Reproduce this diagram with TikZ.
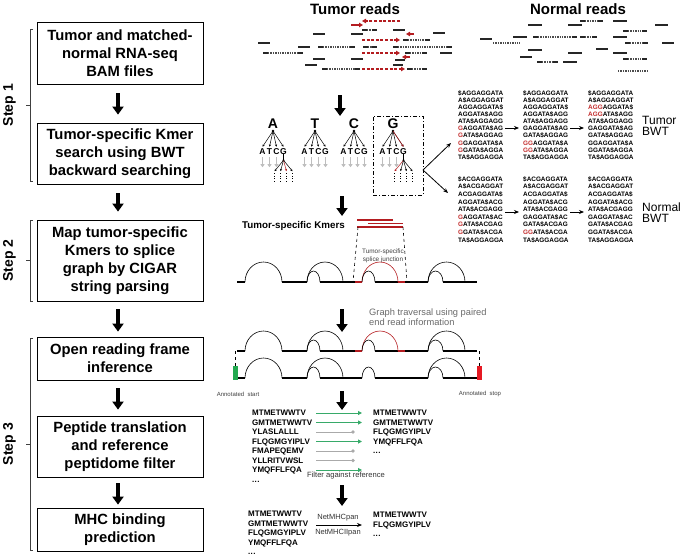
\documentclass[tikz,border=0pt]{standalone}
\usepackage{fontspec}
\setmainfont{Liberation Sans}
\usetikzlibrary{arrows.meta}
\definecolor{kred}{RGB}{180,28,32}
\definecolor{bwtred}{RGB}{195,45,45}
\definecolor{pgreen}{RGB}{55,170,105}
\definecolor{pgray}{RGB}{170,170,170}
\definecolor{treegray}{RGB}{190,190,190}
\definecolor{txtgray}{RGB}{105,105,105}
\definecolor{startgreen}{RGB}{35,170,80}
\definecolor{stopred}{RGB}{230,25,35}
\newcommand{\fs}[2]{\fontsize{#1}{#2}\selectfont}
\newcommand{\R}[1]{\textcolor{bwtred}{#1}}
\newcommand{\threedots}{.\kern0.3pt.\kern0.3pt.}
\tikzset{
  stepbox/.style={draw, line width=0.8pt, minimum width=166pt, align=center, inner sep=0pt, font=\fs{14.8}{18}\bfseries},
  bigarrow/.style={line width=3.8pt, -{Triangle[width=11pt,length=8pt]}},
  bracketline/.style={line width=0.6pt, black!75},
  steplabel/.style={rotate=90, font=\fs{14}{16}\bfseries, inner sep=0pt},
  titletext/.style={font=\fs{15}{17}\bfseries, inner sep=0pt, text height=10.8pt, text depth=0pt},
  readline/.style={line width=1.2pt, black!85},
  readgap/.style={line width=1.2pt, black!70, dash pattern=on 1.4pt off 1pt},
  redread/.style={line width=1.3pt, kred, dash pattern=on 3pt off 1.6pt, -{Triangle[width=4.5pt,length=4pt]}},
  redsolid/.style={line width=1.3pt, kred, -{Triangle[width=4.5pt,length=4pt]}},
  rootl/.style={font=\fs{14}{16}\bfseries, inner sep=0pt, text height=10pt, text depth=0pt},
  childl/.style={font=\fs{8.5}{9}\bfseries, inner sep=0pt, text height=6.1pt, text depth=0pt},
  tedge/.style={line width=0.5pt, -{Stealth[length=2.4pt,width=2.2pt]}},
  grayarr/.style={line width=1.6pt, treegray, -{Triangle[width=4.2pt,length=3.2pt]}},
  bwt/.style={font=\fs{6.4}{7}\bfseries, inner sep=0pt, anchor=west, text height=4.6pt, text depth=0pt},
  bwtlabel/.style={font=\fs{12}{11.5}, align=left, inner sep=0pt, anchor=west},
  thinarr/.style={line width=0.8pt, -{Stealth[length=5pt,width=4pt]}},
  pep/.style={font=\fs{8}{9}\bfseries, inner sep=0pt, anchor=west, text height=5.7pt, text depth=0pt},
  garr/.style={line width=1pt, pgreen, -{Triangle[width=4pt,length=4pt]}},
  gryarr/.style={line width=1pt, pgray},
  smalltxt/.style={font=\fs{6}{7}, inner sep=0pt, text=black!75},
  kmer/.style={line width=1.8pt, kred},
}
\newcommand{\rd}[3]{\draw[readline] (#1,#3) -- (#2,#3);}
\newcommand{\dr}[3]{\draw[readgap] (#1,#3) -- (#2,#3);}
\newcommand{\pe}[3]{\draw[readline] (#1,#3) -- ({#1+5},#3); \draw[readgap] ({#1+5},#3) -- ({#2-5},#3); \draw[readline] ({#2-5},#3) -- (#2,#3);}
\newcommand{\ktree}[3]{%
  \node[rootl] (#3) at (#1,123) {#2};
  \coordinate (#3dot) at (#1,131);
  \fill (#3dot) circle (1.3pt);
  \foreach \c/\dx [count=\i] in {A/-10.5,T/-3.5,C/3.5,G/10.5}{
    \node[childl] (#3c\i) at ({#1+\dx},151) {\c};
    \draw[tedge] (#3dot) -- ([yshift=1pt]#3c\i.north);
  }%
}
\newcommand{\garrs}[2]{\foreach \i in {#2} {\draw[grayarr] ([yshift=-3pt]#1c\i.south) -- ++(0,10);}}
\newcommand{\subfan}[2]{%
  \path ([yshift=-6pt]#1.south) coordinate (#1sf);
  \draw[line width=0.5pt] (#1.south) -- (#1sf);
  \fill (#1sf) circle (1.2pt);
  \foreach \dx [count=\j] in {-9,-3,3,9}{
    \ifnum\j=#2 \def\ecol{kred}\else\def\ecol{black}\fi
    \draw[tedge,\ecol] (#1sf) -- ++(\dx,11);
    \draw[line width=0.7pt, dash pattern=on 1pt off 1.6pt] ([shift={(\dx,13)}]#1sf) -- ++(0,9);
  }%
}
\newcommand{\sarc}[5]{\draw[#1, line width=0.6pt] (#2,#4) arc[start angle=180, end angle=360, x radius={(#3-#2)/2}, y radius=#5];}
\newcommand{\exon}[4]{\draw[#1, line width=1.5pt] (#2,#4) -- (#3,#4);}
\newcommand{\graphAB}[1]{%
 \exon{black}{237}{245}{#1} \exon{black}{282}{307}{#1} \exon{black}{320}{355}{#1} \exon{kred}{355}{362}{#1}
 \exon{black}{375}{398}{#1} \exon{kred}{398}{405}{#1} \exon{black}{405}{428}{#1} \exon{black}{443}{477}{#1}
 \sarc{black}{245}{282}{#1}{20} \sarc{black}{307}{343}{#1}{20} \sarc{black}{307}{320}{#1}{11}
 \sarc{kred}{362}{398}{#1}{20} \sarc{black}{362}{375}{#1}{11} \sarc{black}{428}{465}{#1}{20} \sarc{black}{428}{443}{#1}{11}
}
\begin{document}
\begin{tikzpicture}[x=1pt,y=-1pt]
\useasboundingbox (0,0) rectangle (682,557);
% ---------- left column ----------
\node[stepbox, minimum height=62pt] (b1) at (120,53) {Tumor and matched-\\normal RNA-seq\\BAM files};
\node[stepbox, minimum height=61pt] (b2) at (120,153.5) {Tumor-specific Kmer\\search using BWT\\backward searching};
\node[stepbox, minimum height=81pt] (b3) at (120,260.5) {Map tumor-specific\\Kmers to splice\\graph by CIGAR\\string parsing};
\node[stepbox, minimum height=43pt] (b4) at (120,358.5) {Open reading frame\\inference};
\node[stepbox, minimum height=61pt] (b5) at (120,446.5) {Peptide translation\\and reference\\peptidome filter};
\node[stepbox, minimum height=43pt] (b6) at (120,529.5) {MHC binding\\prediction};
\draw[bigarrow] ([xshift=-2pt,yshift=-9pt]b1.south) -- ([xshift=-2pt,yshift=8pt]b2.north);
\draw[bigarrow] ([xshift=-2pt,yshift=-9pt]b2.south) -- ([xshift=-2pt,yshift=8pt]b3.north);
\draw[bigarrow] ([xshift=-2pt,yshift=-8pt]b3.south) -- ([xshift=-2pt,yshift=5pt]b4.north);
\draw[bigarrow] ([xshift=-2pt,yshift=-8pt]b4.south) -- ([xshift=-2pt,yshift=6pt]b5.north);
\draw[bigarrow] ([xshift=-2pt,yshift=-6pt]b5.south) -- ([xshift=-2pt,yshift=3pt]b6.north);
\draw[bracketline] (33,29) -- (30,29) -- (30,181) -- (33,181);
\draw[bracketline] (30,105) -- (26,105);
\draw[bracketline] (33,220) -- (30,220) -- (30,301) -- (33,301);
\draw[bracketline] (30,260.5) -- (26,260.5);
\draw[bracketline] (33,338) -- (30,338) -- (30,550) -- (33,550);
\draw[bracketline] (30,444) -- (26,444);
\node[steplabel] (s1) at (9.5,105) {Step 1};
\node[steplabel] (s2) at (9.5,260.5) {Step 2};
\node[steplabel] (s3) at (9.5,444) {Step 3};
% ---------- reads ----------
\node[titletext] (tr) at (355,9) {Tumor reads};
\node[titletext] (nr) at (578,9) {Normal reads};
\draw[redread] (400,21) -- (362,21);
\draw[redsolid] (351,25) -- (363,25);
\pe{362}{377}{30} \rd{393}{405}{30}
\rd{313}{325}{34} \rd{351}{363}{34} \rd{433}{445}{33}
\draw[redsolid] (414,34) -- (406,34);
\draw[redread] (362,40) -- (400,40);
\pe{403}{430}{40}
\rd{258}{270}{43}
\rd{298}{310}{47} \pe{318}{355}{47} \pe{363}{377}{47} \pe{393}{452}{47}
\pe{263}{303}{53}
\draw[redread] (362,53) -- (400,53);
\pe{405}{427}{53} \rd{440}{452}{53}
\rd{313}{325}{59} \rd{351}{363}{59} \rd{395}{405}{60}
\draw[redsolid] (410,57) -- (402,57);
\rd{305}{317}{65} \rd{393}{403}{65}
\pe{322}{360}{69}
\draw[redread] (362,69) -- (405,69);
\pe{407}{427}{69}
% normal reads
\pe{580}{603}{21} \rd{613}{627}{21}
\rd{528}{542}{25} \rd{568}{582}{25} \rd{655}{668}{25}
\pe{623}{647}{31}
\rd{513}{527}{37} \pe{533}{577}{37} \pe{580}{597}{37} \rd{613}{627}{37}
\rd{480}{492}{39}
\dr{493}{520}{43} \pe{625}{648}{43} \rd{662}{674}{43}
\rd{528}{542}{50} \rd{596}{608}{49}
\rd{568}{582}{53} \rd{613}{627}{53}
\rd{520}{532}{57}
\pe{623}{647}{59}
\pe{537}{558}{62} \rd{563}{577}{62}
\dr{618}{648}{71}
% ---------- middle big arrows ----------
\coordinate (m1s) at (340,95); \coordinate (m1e) at (340,116);
\coordinate (m2s) at (342,196); \coordinate (m2e) at (342,216);
\coordinate (m3s) at (342,309); \coordinate (m3e) at (342,332);
\coordinate (m4s) at (342,391); \coordinate (m4e) at (342,410);
\coordinate (m5s) at (342,485); \coordinate (m5e) at (342,506);
\draw[bigarrow] (m1s) -- (m1e);
\draw[bigarrow] (m2s) -- (m2e);
\draw[bigarrow] (m3s) -- (m3e);
\draw[bigarrow] (m4s) -- (m4e);
\draw[bigarrow] (m5s) -- (m5e);
% ---------- trees ----------
\ktree{273}{A}{ta}
\ktree{315}{T}{tt}
\ktree{354}{C}{tc}
\ktree{393}{G}{tg}
\garrs{ta}{1,2,3}
\garrs{tt}{1,2,3,4}
\garrs{tc}{1,2,3,4}
\garrs{tg}{1,2,3}
\subfan{tac4}{3}
\draw[tedge,kred] (tgdot) -- ([yshift=1pt]tgc4.north);
\subfan{tgc4}{1}
\node[draw, line width=0.8pt, dash pattern=on 4pt off 2pt on 1pt off 2pt, minimum width=50pt, minimum height=79pt, inner sep=0pt] (gbox) at (398,155.5) {};
\coordinate (gsplit) at (423,170);
\coordinate (tumtip) at (451,143);
\coordinate (nortip) at (448,193);
\draw[thinarr] (gsplit) -- (tumtip);
\draw[thinarr] (gsplit) -- (nortip);
% ---------- BWT tables ----------
\foreach \t [count=\i] in {{\$AGGAGGATA},{A\$AGGAGGAT},{AGGAGGATA\$},{AGGATA\$AGG},{ATA\$AGGAGG},{\R{G}AGGATA\$AG},{\R{G}ATA\$AGGAG},{\R{G}GAGGATA\$A},{\R{G}GATA\$AGGA},{TA\$AGGAGGA}}
  \node[bwt] (tA\i) at (458,{93+7.1*(\i-1)}) {\t};
\foreach \t [count=\i] in {{\$AGGAGGATA},{A\$AGGAGGAT},{AGGAGGATA\$},{AGGATA\$AGG},{ATA\$AGGAGG},{GAGGATA\$AG},{GATA\$AGGAG},{\R{GG}AGGATA\$A},{\R{GG}ATA\$AGGA},{TA\$AGGAGGA}}
  \node[bwt] (tB\i) at (523,{93+7.1*(\i-1)}) {\t};
\foreach \t [count=\i] in {{\$AGGAGGATA},{A\$AGGAGGAT},{\R{AGG}AGGATA\$},{\R{AGG}ATA\$AGG},{ATA\$AGGAGG},{GAGGATA\$AG},{GATA\$AGGAG},{GGAGGATA\$A},{GGATA\$AGGA},{TA\$AGGAGGA}}
  \node[bwt] (tC\i) at (588,{93+7.1*(\i-1)}) {\t};
\foreach \t [count=\i] in {{\$ACGAGGATA},{A\$ACGAGGAT},{ACGAGGATA\$},{AGGATA\$ACG},{ATA\$ACGAGG},{\R{G}AGGATA\$AC},{\R{G}ATA\$ACGAG},{\R{G}GATA\$ACGA},{TA\$AGGAGGA}}
  \node[bwt] (nA\i) at (458,{179+7.6*(\i-1)}) {\t};
\foreach \t [count=\i] in {{\$ACGAGGATA},{A\$ACGAGGAT},{ACGAGGATA\$},{AGGATA\$ACG},{ATA\$ACGAGG},{GAGGATA\$AC},{GATA\$ACGAG},{\R{GG}ATA\$ACGA},{TA\$AGGAGGA}}
  \node[bwt] (nB\i) at (523,{179+7.6*(\i-1)}) {\t};
\foreach \t [count=\i] in {{\$ACGAGGATA},{A\$ACGAGGAT},{ACGAGGATA\$},{AGGATA\$ACG},{ATA\$ACGAGG},{GAGGATA\$AC},{GATA\$ACGAG},{GGATA\$ACGA},{TA\$AGGAGGA}}
  \node[bwt] (nC\i) at (588,{179+7.6*(\i-1)}) {\t};
\coordinate (ta1) at (505,128); \coordinate (ta2) at (519,128);
\coordinate (ta3) at (570,128); \coordinate (ta4) at (584,128);
\coordinate (na1) at (505,212); \coordinate (na2) at (519,212);
\coordinate (na3) at (570,212); \coordinate (na4) at (584,212);
\draw[thinarr] (ta1) -- (ta2); \draw[thinarr] (ta3) -- (ta4);
\draw[thinarr] (na1) -- (na2); \draw[thinarr] (na3) -- (na4);
\node[bwtlabel] (tbwt) at (642,126) {Tumor\\BWT};
\node[bwtlabel] (nbwt) at (642,212.5) {Normal\\BWT};
% ---------- Kmers and splice graph ----------
\node[font=\fs{9.8}{11}\bfseries, inner sep=0pt, text height=7pt, text depth=0pt] (kmtxt) at (293.5,225) {Tumor-specific Kmers};
\draw[kmer] (357,220) -- (393,220);
\draw[kmer] (368,223.5) -- (403,223.5);
\draw[kmer] (357,227) -- (403,227);
\coordinate (kl) at (358,227); \coordinate (kr) at (403,227);
\coordinate (gl) at (353,282); \coordinate (gr) at (407,282);
\draw[dashed, line width=0.6pt] (kl) -- (gl);
\draw[dashed, line width=0.6pt] (kr) -- (gr);
\node[font=\fs{6.4}{8}, align=center, inner sep=0pt, anchor=north, text=black!75] (sjtxt) at (383,249) {Tumor-specific\\splice junction};
\graphAB{282}
% ---------- ORF ----------
\node[font=\fs{9.3}{10.5}, align=left, inner sep=0pt, anchor=north west, text=txtgray] (gttxt) at (369,308.5) {Graph traversal using paired\\end read information};
\graphAB{351}
\exon{black}{237}{245}{378} \exon{black}{282}{307}{378} \exon{black}{320}{362}{378} \exon{black}{375}{428}{378} \exon{black}{443}{478}{378}
\sarc{black}{245}{282}{378}{20} \sarc{black}{307}{343}{378}{20} \sarc{black}{307}{320}{378}{11}
\sarc{black}{362}{375}{378}{11} \sarc{black}{428}{465}{378}{20} \sarc{black}{428}{443}{378}{11}
\coordinate (st1) at (235,351); \coordinate (st2) at (235,366);
\coordinate (sp1) at (479,351); \coordinate (sp2) at (479,366);
\draw[dashed, line width=0.6pt] (st1) -- (st2);
\draw[dashed, line width=0.6pt] (sp1) -- (sp2);
\fill[startgreen] (232.5,366) rectangle (238,380);
\fill[stopred] (476.5,366) rectangle (482,380);
\node[smalltxt] (ast) at (238,394) {Annotated\ \ start};
\node[smalltxt] (asp) at (480,394) {Annotated\ \ stop};
% ---------- peptides ----------
\foreach \p [count=\i] in {MTMETWWTV,GMTMETWWTV,YLASLALLL,FLQGMGYIPLV,FMAPEQEMV,YLLRITVWSL,YMQFFLFQA,\threedots}
  \node[pep] (pl\i) at (252,{413+9.5*(\i-1)}) {\p};
\foreach \i in {1,2,3,4,5,6,7} {
  \coordinate (pa\i) at (316,{413+9.5*(\i-1)});
  \coordinate (pb\i) at (362,{413+9.5*(\i-1)});
  \coordinate (pc\i) at (353,{413+9.5*(\i-1)});
}
\foreach \i in {1,2,4,7} \draw[garr] (pa\i) -- (pb\i);
\foreach \i in {3,5,6} {\draw[gryarr] (pa\i) -- (pc\i); \fill[pgray] (pc\i) circle (1.8pt);}
\foreach \p [count=\i] in {MTMETWWTV,GMTMETWWTV,FLQGMGYIPLV,YMQFFLFQA,\threedots}
  \node[pep] (pr\i) at (373,{413+9.5*(\i-1)}) {\p};
\node[font=\fs{7.6}{9}, inner sep=0pt, text=black!80] (filt) at (346,476) {Filter against reference};
% ---------- MHC ----------
\foreach \p [count=\i] in {MTMETWWTV,GMTMETWWTV,FLQGMGYIPLV,YMQFFLFQA,\threedots}
  \node[pep] (ml\i) at (248,{514+9.5*(\i-1)}) {\p};
\foreach \p [count=\i] in {MTMETWWTV,FLQGMGYIPLV,\threedots}
  \node[pep] (mr\i) at (373,{515+9.5*(\i-1)}) {\p};
\coordinate (mh1) at (316,525); \coordinate (mh2) at (362,525);
\draw[thinarr] (mh1) -- (mh2);
\node[font=\fs{7.5}{9}, inner sep=0pt, text=black!80] (nm1) at (338,518) {NetMHCpan};
\node[font=\fs{7.5}{9}, inner sep=0pt, text=black!80] (nm2) at (338,532.5) {NetMHCIIpan};
\end{tikzpicture}
\end{document}
